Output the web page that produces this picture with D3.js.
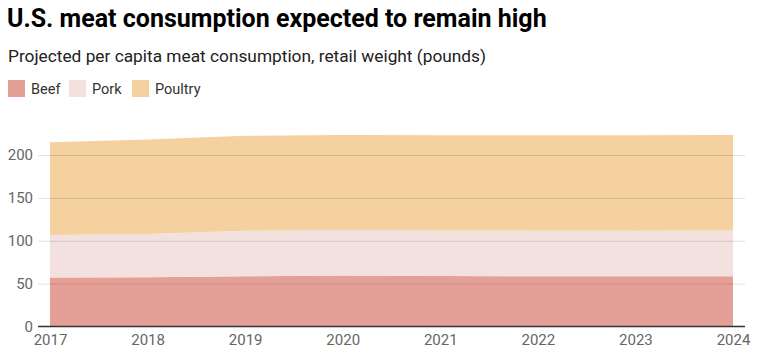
<!DOCTYPE html>
<html>
<head>
<meta charset="utf-8">
<script src="https://cdn.jsdelivr.net/npm/d3@7"></script>
<style>
  body { margin: 0; background: #fff; font-family: Roboto, "Noto Sans", sans-serif; }
</style>
</head>
<body>
<div id="vis"></div>
<script>
const years = [2017, 2018, 2019, 2020, 2021, 2022, 2023, 2024]
const beef = [57.1, 57.4, 58.6, 59.4, 59.0, 58.6, 58.6, 58.6]
const pork = [49.7, 50.6, 53.0, 53.2, 53.0, 53.2, 53.2, 53.4]
const poultry = [108.0, 110.0, 110.9, 110.7, 111.0, 111.2, 111.2, 111.2]
const yTicks = [0, 50, 100, 150, 200]

const series = ['Beef', 'Pork', 'Poultry']
const colors = ['#e49f97', '#f2e1df', '#f4d19f']
const colorScale = d3.scaleOrdinal(series, colors)

const W = 760, H = 361

const svg = d3.select('#vis').append('svg')
    .attr('width', W)
    .attr('height', H)

// title + subtitle
svg.append('text')
    .attr('x', 7).attr('y', 27)
    .style('font-size', '25px')
    .style('font-weight', 700)
    .style('fill', '#000')
    .text('U.S. meat consumption expected to remain high')

svg.append('text')
    .attr('x', 8).attr('y', 62)
    .style('font-size', '17.3px')
    .style('fill', '#222')
    .text('Projected per capita meat consumption, retail weight (pounds)')

// legend
const legendX = [8, 69, 132]
const lg = svg.selectAll('.legend')
    .data(series)
    .enter()
    .append('g')
    .attr('transform', (d, i) => `translate(${legendX[i]},80)`)
lg.append('rect')
    .attr('width', 17).attr('height', 17)
    .style('fill', d => colorScale(d))
lg.append('text')
    .attr('x', 23).attr('y', 14)
    .style('font-size', '14.5px')
    .style('fill', '#333')
    .text(d => d)

const data = years.map((y, i) => ({ year: y, Beef: beef[i], Pork: pork[i], Poultry: poultry[i] }))
const stacked = d3.stack().keys(series)(data)

const xScale = d3.scaleLinear()
    .domain([2017, 2024])
    .range([50, 733])

const yScale = d3.scaleLinear()
    .domain([0, 200])
    .range([326.5, 155])

const area = d3.area()
    .x(d => xScale(d.data.year))
    .y0(d => yScale(d[0]))
    .y1(d => yScale(d[1]))

svg.selectAll('.area')
    .data(stacked)
    .enter()
    .append('path')
    .attr('class', 'area')
    .attr('d', area)
    .style('fill', d => colorScale(d.key))

// grid on top
const yAxis = d3.axisLeft(yScale)
    .tickValues(yTicks)
    .tickSize(-(745 - 38))
    .tickPadding(6)

const gy = svg.append('g')
    .attr('transform', 'translate(38,0)')
    .call(yAxis)
gy.select('.domain').remove()
gy.selectAll('line')
    .style('stroke', 'rgba(0,0,0,0.12)')
gy.selectAll('.tick').filter(d => d === 0).select('line').remove()
gy.selectAll('text')
    .attr('x', -5)
    .style('font-family', 'Roboto, sans-serif')
    .style('font-size', '15px')
    .style('fill', '#666')

// baseline
svg.append('line')
    .attr('x1', 38).attr('x2', 745)
    .attr('y1', yScale(0)).attr('y2', yScale(0))
    .style('stroke', '#333')
    .style('stroke-width', 1.5)

const xAxis = d3.axisBottom(xScale)
    .tickValues(years)
    .tickFormat(d3.format('d'))
    .tickSize(0)
    .tickPadding(8)

const gx = svg.append('g')
    .attr('transform', `translate(0,${yScale(0)})`)
    .call(xAxis)
gx.select('.domain').remove()
gx.selectAll('text')
    .style('font-family', 'Roboto, sans-serif')
    .style('font-size', '15px')
    .style('fill', '#666')
</script>
</body>
</html>
